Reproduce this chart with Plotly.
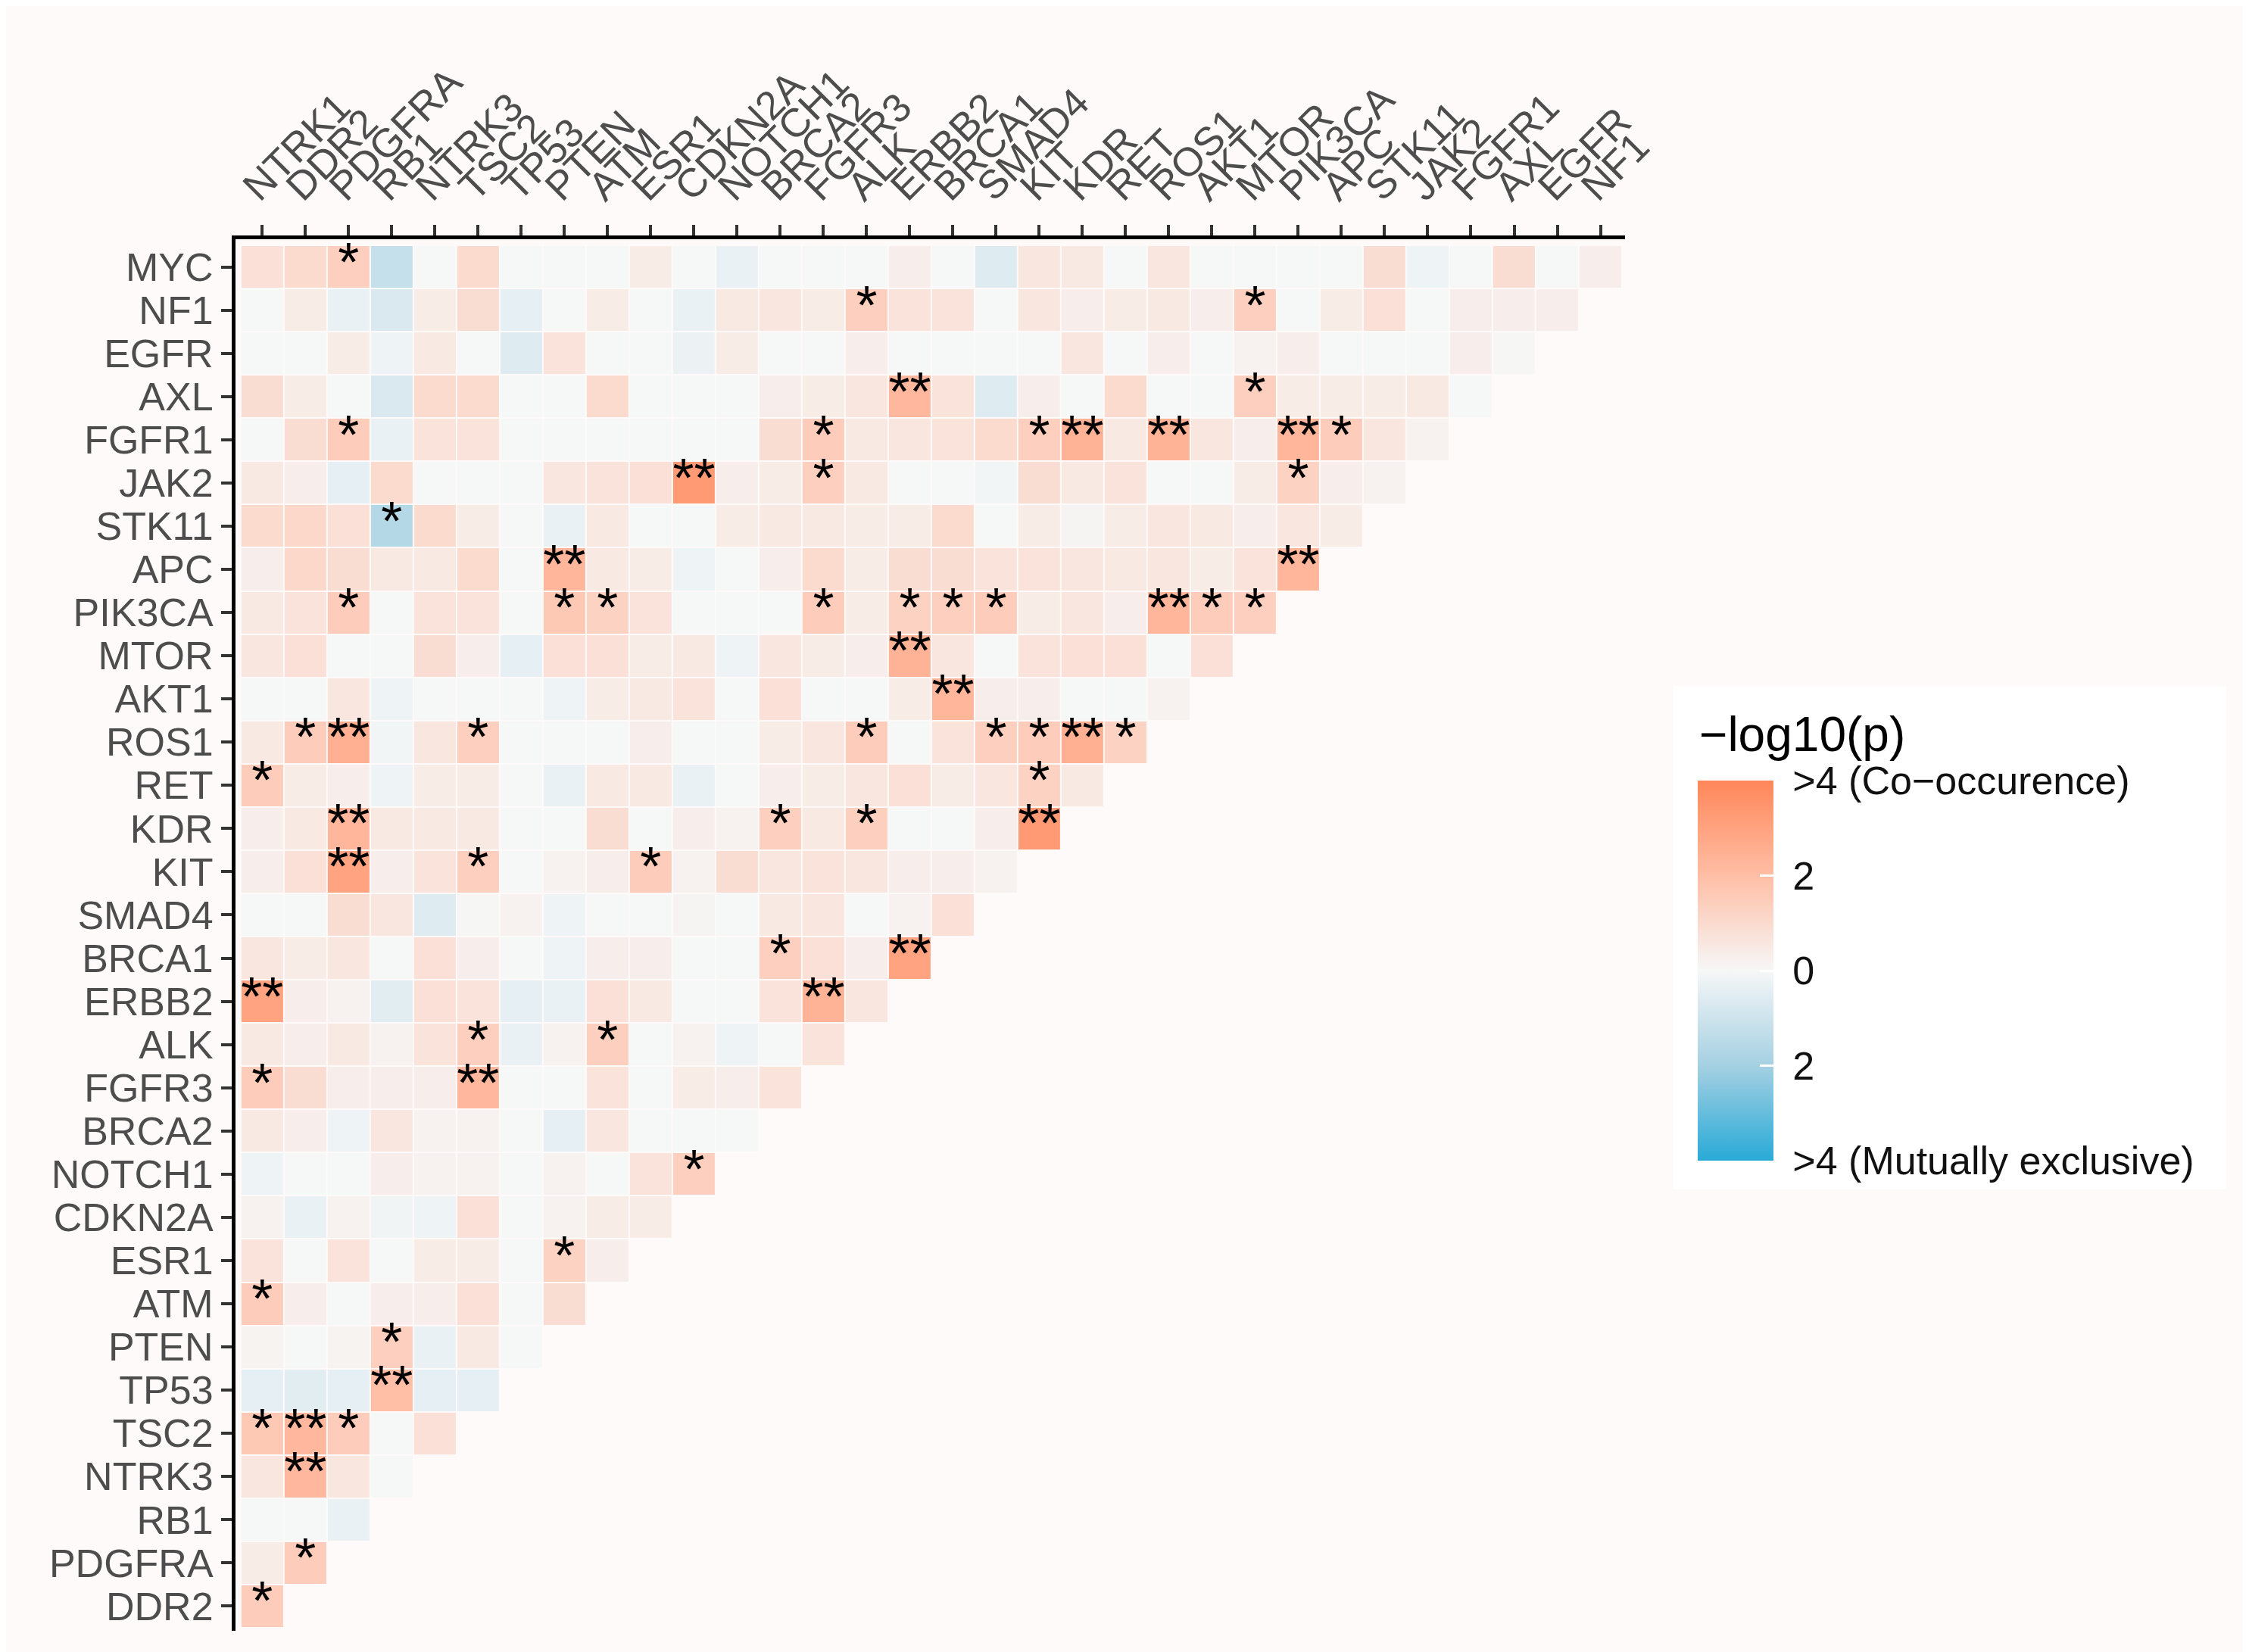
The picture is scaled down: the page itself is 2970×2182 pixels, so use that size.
import plotly.graph_objects as go

# column genes (left to right) and row genes (top to bottom)
col_genes = ["NTRK1", "DDR2", "PDGFRA", "RB1", "NTRK3", "TSC2", "TP53", "PTEN", "ATM", "ESR1",
             "CDKN2A", "NOTCH1", "BRCA2", "FGFR3", "ALK", "ERBB2", "BRCA1", "SMAD4", "KIT", "KDR",
             "RET", "ROS1", "AKT1", "MTOR", "PIK3CA", "APC", "STK11", "JAK2", "FGFR1", "AXL",
             "EGFR", "NF1"]
row_genes = ["MYC", "NF1", "EGFR", "AXL", "FGFR1", "JAK2", "STK11", "APC", "PIK3CA", "MTOR",
             "AKT1", "ROS1", "RET", "KDR", "KIT", "SMAD4", "BRCA1", "ERBB2", "ALK", "FGFR3",
             "BRCA2", "NOTCH1", "CDKN2A", "ESR1", "ATM", "PTEN", "TP53", "TSC2", "NTRK3", "RB1",
             "PDGFRA", "DDR2"]

# signed -log10(p): positive = co-occurrence, negative = mutually exclusive
myc = [0.8, 1.0, 1.4, -1.2, 0, 1.0, 0, 0, 0, 0.4, 0, -0.3, 0, 0, 0, 0.3, 0, -0.6, 0.6, 0.5, 0,
       0.6, 0, 0, 0, 0, 0.9, -0.2, 0, 0.9, 0, 0.3]
nf1 = [0, 0.4, -0.3, -0.7, 0.4, 0.9, -0.4, 0, 0.4, 0, -0.3, 0.5, 0.6, 0.4, 1.4, 0.7, 0.7, 0, 0.6,
       0.3, 0.4, 0.5, 0.3, 1.4, 0, 0.4, 0.8, 0, 0.3, 0.3, 0.3]
egfr = [0, 0, 0.4, -0.2, 0.5, 0, -0.6, 0.7, 0, 0, -0.25, 0.4, 0, 0, 0.3, 0, 0, 0, 0, 0.6, 0,
        0.3, 0, 0.2, 0.3, 0, 0, 0, 0.3, 0.05]
axl = [0.9, 0.4, 0, -0.7, 1.0, 1.0, 0, 0, 1.0, 0, 0, 0, 0.3, 0.4, 0.6, 2.2, 0.7, -0.6, 0.3, 0,
       1.0, 0, 0, 1.4, 0.4, 0.4, 0.4, 0.5, 0]
fgfr1 = [0, 0.9, 1.5, -0.3, 0.7, 0.7, 0, 0, 0, 0, 0, 0, 0.9, 1.5, 0.5, 0.6, 0.7, 1.0, 1.4, 2.4,
         0.5, 2.4, 0.6, 0.3, 2.3, 1.5, 0.6, 0.2]
jak2 = [0.5, 0.3, -0.4, 1.0, 0, 0, 0, 0.6, 0.7, 0.8, 3.3, 0.3, 0.4, 1.4, 0.5, 0, 0, -0.1, 0.9,
        0.5, 0.7, 0, 0, 0.4, 1.3, 0.3, 0.2]
stk11 = [1.0, 1.1, 0.8, -1.6, 1.0, 0.4, 0, -0.3, 0.5, 0, 0, 0.4, 0.5, 0.5, 0.4, 0.4, 1.0, 0,
         0.4, 0.1, 0.4, 0.6, 0.5, 0.3, 0.6, 0.4]
apc = [0.3, 1.1, 0.9, 0.5, 0.5, 1.0, 0, 2.3, 0.5, 0.4, -0.2, 0, 0.3, 1.0, 0.4, 0.9, 0.9, 0.7,
       0.7, 0.6, 0.5, 0.6, 0.4, 0.7, 2.3]
pik3ca = [0.5, 0.7, 1.5, 0, 0.7, 0.7, 0, 1.6, 1.3, 0.7, 0, 0, 0, 1.5, 0.4, 1.3, 1.4, 1.5, 0.4,
          0.6, 0.3, 2.3, 1.5, 1.4]
mtor = [0.6, 0.8, 0, 0, 0.9, 0.3, -0.4, 0.8, 0.8, 0.4, 0.5, -0.2, 0.6, 0.4, 0.3, 2.4, 0.6, 0,
        0.7, 0.8, 0.8, 0, 0.8]
akt1 = [0, 0, 0.6, -0.2, 0, 0, 0, -0.2, 0.4, 0.5, 0.7, 0, 0.8, 0, 0, 0.4, 2.3, 0.3, 0.3, 0, 0,
        0.2]
ros1 = [0.5, 1.5, 2.5, -0.1, 0.6, 1.4, 0, 0, 0, 0.3, 0, 0, 0.4, 0.6, 1.5, 0, 0.7, 1.4, 1.5,
        2.5, 1.3]
ret = [1.5, 0.4, 0.3, -0.2, 0.4, 0.4, 0, -0.3, 0.5, 0.5, -0.3, 0, 0.3, 0.4, 0.6, 0.8, 0.4, 0.6,
       1.3, 0.5]
kdr = [0.3, 0.5, 2.3, 0.5, 0.5, 0.5, 0, 0, 0.9, 0, 0.3, 0.2, 1.4, 0.5, 1.4, 0, 0, 0.3, 3.3]
kit = [0.3, 0.8, 3.0, 0.3, 0.7, 1.4, 0, 0.2, 0.3, 1.5, 0.2, 0.9, 0.6, 0.7, 0.6, 0.3, 0.3, 0.2]
smad4 = [0, 0, 0.9, 0.6, -0.6, 0.05, 0.2, -0.2, 0, 0, 0.1, 0, 0.5, 0.6, 0, 0.2, 0.8]
brca1 = [0.6, 0.4, 0.6, 0, 0.8, 0.3, 0, -0.2, 0.3, 0.3, 0, 0, 1.4, 0.8, 0.3, 3.0]
erbb2 = [3.0, 0.3, 0.2, -0.5, 0.8, 0.7, -0.4, -0.3, 0.8, 0.5, 0, 0, 0.7, 2.4, 0.6]
alk = [0.5, 0.3, 0.5, 0.2, 0.7, 1.4, -0.3, 0.2, 1.4, 0, 0.2, -0.2, 0, 0.7]
fgfr3 = [1.5, 0.9, 0.3, 0.3, 0.3, 2.2, 0, 0, 0.7, 0, 0.4, 0.3, 0.7]
brca2 = [0.5, 0.3, -0.2, 0.6, 0.2, 0.2, 0, -0.4, 0.6, 0, 0, 0]
notch1 = [-0.2, 0, 0, 0.3, 0.2, 0.2, 0, 0.2, 0, 0.7, 1.4]
cdkn2a = [0.2, -0.3, 0.2, -0.15, -0.2, 0.8, 0, 0.2, 0.4, 0.4]
esr1 = [0.7, 0, 0.7, 0, 0.4, 0.4, 0, 1.3, 0.3]
atm = [1.5, 0.3, 0, 0.3, 0.3, 0.8, 0, 0.9]
pten = [0.15, 0, 0.15, 1.4, -0.3, 0.5, 0]
tp53 = [-0.4, -0.5, -0.4, 2.0, -0.4, -0.4]
tsc2 = [1.6, 2.2, 1.5, 0, 0.8]
ntrk3 = [0.6, 2.2, 0.6, 0]
rb1 = [0, 0, -0.3]
pdgfra = [0.4, 1.5]
ddr2 = [1.5]

rows = [myc, nf1, egfr, axl, fgfr1, jak2, stk11, apc, pik3ca, mtor, akt1, ros1, ret, kdr, kit,
        smad4, brca1, erbb2, alk, fgfr3, brca2, notch1, cdkn2a, esr1, atm, pten, tp53, tsc2,
        ntrk3, rb1, pdgfra, ddr2]

# significance marks
sig_row = ["MYC", "NF1", "NF1", "AXL", "AXL",
           "FGFR1", "FGFR1", "FGFR1", "FGFR1", "FGFR1", "FGFR1", "FGFR1",
           "JAK2", "JAK2", "JAK2", "STK11", "APC", "APC",
           "PIK3CA", "PIK3CA", "PIK3CA", "PIK3CA", "PIK3CA", "PIK3CA", "PIK3CA", "PIK3CA",
           "PIK3CA", "PIK3CA",
           "MTOR", "AKT1",
           "ROS1", "ROS1", "ROS1", "ROS1", "ROS1", "ROS1", "ROS1", "ROS1",
           "RET", "RET", "KDR", "KDR", "KDR", "KDR", "KIT", "KIT", "KIT",
           "BRCA1", "BRCA1", "ERBB2", "ERBB2", "ALK", "ALK", "FGFR3", "FGFR3",
           "NOTCH1", "ESR1", "ATM", "PTEN", "TP53", "TSC2", "TSC2", "TSC2", "NTRK3",
           "PDGFRA", "DDR2"]
sig_col = ["PDGFRA", "ALK", "MTOR", "ERBB2", "MTOR",
           "PDGFRA", "FGFR3", "KIT", "KDR", "ROS1", "PIK3CA", "APC",
           "CDKN2A", "FGFR3", "PIK3CA", "RB1", "PTEN", "PIK3CA",
           "PDGFRA", "PTEN", "ATM", "FGFR3", "ERBB2", "BRCA1", "SMAD4", "ROS1", "AKT1", "MTOR",
           "ERBB2", "BRCA1",
           "DDR2", "PDGFRA", "TSC2", "ALK", "SMAD4", "KIT", "KDR", "RET",
           "NTRK1", "KIT", "PDGFRA", "BRCA2", "ALK", "KIT", "PDGFRA", "TSC2", "ESR1",
           "BRCA2", "ERBB2", "NTRK1", "FGFR3", "TSC2", "ATM", "NTRK1", "TSC2",
           "CDKN2A", "PTEN", "NTRK1", "RB1", "RB1", "NTRK1", "DDR2", "PDGFRA", "DDR2",
           "DDR2", "NTRK1"]
sig_lab = ["*", "*", "*", "**", "*",
           "*", "*", "*", "**", "**", "**", "*",
           "**", "*", "*", "*", "**", "**",
           "*", "*", "*", "*", "*", "*", "*", "**", "*", "*",
           "**", "**",
           "*", "**", "*", "*", "*", "*", "**", "*",
           "*", "*", "**", "*", "*", "**", "**", "*", "*",
           "*", "**", "**", "**", "*", "*", "*", "**",
           "*", "*", "*", "*", "**", "*", "**", "*", "**",
           "*", "*"]

W, H = 2970, 2182
PL, PR, PT, PB = 303, 2138, 308, 2146


def px2x(p):
    return (p - PL) / (PR - PL)


def px2y(p):
    return 1 - (p - PT) / (PB - PT)


n = len(col_genes)
z = [[None] * n for _ in range(n)]
for r, vals in enumerate(rows):
    for c, v in enumerate(vals):
        z[r][c] = v

colorscale = [
    [0.0, "rgb(40,170,215)"],
    [0.25, "rgb(165,208,226)"],
    [0.5, "rgb(246,247,247)"],
    [0.75, "rgb(255,190,165)"],
    [1.0, "rgb(255,135,90)"],
]

fig = go.Figure()
fig.add_trace(go.Heatmap(
    z=z, x=list(range(n)), y=list(range(n)),
    zmin=-4, zmax=4, colorscale=colorscale,
    xgap=2, ygap=2, hoverongaps=False,
    colorbar=dict(
        x=px2x(2234), xanchor="left", xpad=0,
        y=px2y(1274), yanchor="middle", ypad=0,
        len=502, lenmode="pixels",
        thickness=100, thicknessmode="pixels",
        outlinewidth=0,
        tickvals=[-4, -2, 0, 2, 4],
        ticktext=[" >4 (Mutually exclusive)", " 2", " 0", " 2", " >4 (Co\u2212occurence)"],
        ticks="inside", ticklen=18, tickwidth=3, tickcolor="white",
        tickfont=dict(size=52, color="#111111"),
    ),
))

fig.add_trace(go.Scatter(
    x=[col_genes.index(g) for g in sig_col],
    y=[row_genes.index(g) for g in sig_row],
    text=sig_lab, mode="text",
    textposition="middle center",
    textfont=dict(size=72, color="black"),
    hoverinfo="skip", showlegend=False, cliponaxis=False,
))

axis_common = dict(
    showgrid=False, zeroline=False, showline=True, linecolor="black", linewidth=5,
    ticks="outside", ticklen=14, tickwidth=4, tickcolor="#333333",
    automargin=False,
)

fig.update_xaxes(side="top", range=[-0.62, 31.57], tickmode="array",
                 tickvals=list(range(n)), ticktext=col_genes, tickangle=-45,
                 tickfont=dict(size=53, color="#4D4D4D"), ticklabelshift=-22,
                 **axis_common)
fig.update_yaxes(range=[31.57, -0.64], tickmode="array",
                 tickvals=list(range(n)), ticktext=row_genes,
                 tickfont=dict(size=52, color="#4D4D4D"), **axis_common)

# legend panel
fig.add_shape(type="rect", xref="paper", yref="paper",
              x0=px2x(2202), x1=px2x(2932), y0=px2y(1563), y1=px2y(898),
              fillcolor="white", line=dict(width=0), layer="below")
fig.add_annotation(text="\u2212log10(p)", xref="paper", yref="paper",
                   x=px2x(2234), y=px2y(962), xanchor="left", yanchor="middle",
                   showarrow=False, font=dict(size=64, color="black"))

fig.update_layout(
    width=W, height=H,
    margin=dict(l=PL, r=W - PR, t=PT, b=H - PB, pad=0),
    paper_bgcolor="#FEFAFA", plot_bgcolor="#FEFAFA",
    font=dict(family="Liberation Sans, Arial, sans-serif"),
    showlegend=False,
)

fig.write_html("out.html")
